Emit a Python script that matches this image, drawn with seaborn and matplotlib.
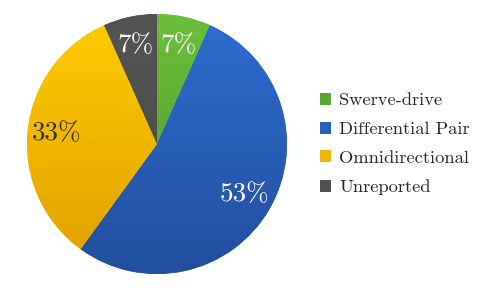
import numpy as np
import matplotlib
matplotlib.use("Agg")
import matplotlib.pyplot as plt
import seaborn as sns
from matplotlib.colors import LinearSegmentedColormap
from matplotlib.patches import Patch

categories = ["Swerve-drive", "Differential Pair", "Omnidirectional", "Unreported"]
counts = [2, 16, 10, 2]
top_colors = ["#6cbf3c", "#2f6dd0", "#ffcc00", "#545454"]
bottom_colors = ["#4a962a", "#224f9e", "#dfa000", "#4a4a4a"]
legend_colors = ["#5aa832", "#2a5fbc", "#f2b800", "#515151"]
label_colors = ["white", "white", "#333333", "white"]

sns.set_style("white")
plt.rcParams["font.family"] = ["cmr10", "DejaVu Serif"]
plt.rcParams["mathtext.fontset"] = "cm"

fig = plt.figure(figsize=(4.82, 2.90), dpi=100)
ax = fig.add_axes([27/482, 16/290, 260/482, 260/290])

wedges, texts, autotexts = ax.pie(
    counts, startangle=90, counterclock=False,
    autopct=lambda p: f"{p:.0f}%", pctdistance=0.78,
    wedgeprops=dict(linewidth=0),
    textprops=dict(fontsize=19.5),
)
grad = np.linspace(1, 0, 256).reshape(-1, 1)
for w, tc, bc in zip(wedges, top_colors, bottom_colors):
    w.set_facecolor(tc)
    cmap = LinearSegmentedColormap.from_list("g", [bc, tc])
    im = ax.imshow(grad, extent=[-1, 1, -1, 1], cmap=cmap, aspect="auto",
                   origin="upper", zorder=w.get_zorder() + 0.1)
    im.set_clip_path(w)
for t, c in zip(autotexts, label_colors):
    t.set_color(c)
    t.set_zorder(10)
ax.set_xlim(-1, 1)
ax.set_ylim(-1, 1)
ax.set_aspect("equal")
ax.axis("off")

handles = [Patch(facecolor=c, edgecolor="none") for c in legend_colors]
fig.legend(handles, categories, loc="center left",
           bbox_to_anchor=(320/482, 1 - 144/290), frameon=False,
           fontsize=13.3, handlelength=0.62, handleheight=0.62,
           handletextpad=0.42, labelspacing=0.72, borderpad=0, borderaxespad=0)

fig.savefig("out.png", dpi=100)
